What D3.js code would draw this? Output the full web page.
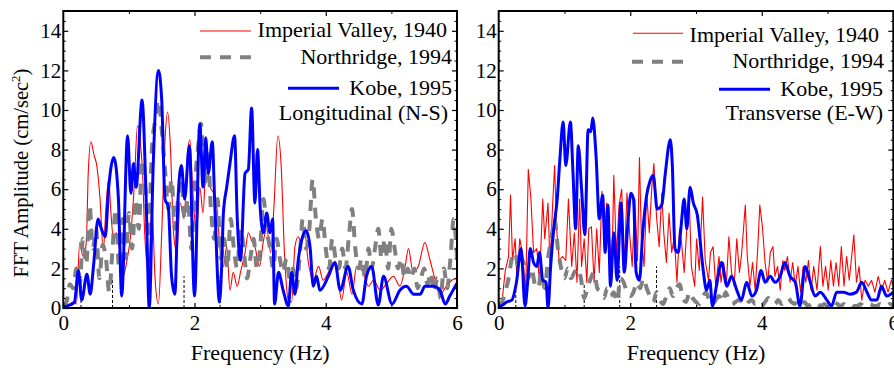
<!DOCTYPE html>
<html>
<head>
<meta charset="utf-8">
<script src="https://cdn.jsdelivr.net/npm/d3@7"></script>
<style>
  body { margin: 0; background: #fff; }
  svg { display: block; }
</style>
</head>
<body>
<script>
// ---------- data: [frequency Hz, amplitude cm/sec^2]
// Longitudinal (N-S)
var ivNS = [[0,0.1],[0.1,0.2],[0.15,0.3],[0.2,0.2],[0.25,3.3],[0.3,2.6],[0.35,3.3],[0.38,6.8],[0.42,8.4],[0.47,7.7],[0.51,7.2],[0.56,5.5],[0.61,2.9],[0.65,5.1],[0.69,6.5],[0.73,4.6],[0.76,3.6],[0.81,3.8],[0.86,2.9],[0.91,1.6],[0.97,2.4],[1.03,3.8],[1.08,6.1],[1.13,9.2],[1.17,8.5],[1.21,6.7],[1.24,3.8],[1.30,1.8],[1.35,5.1],[1.40,1.4],[1.45,0.2],[1.50,3.8],[1.55,8.5],[1.59,9.9],[1.63,8.3],[1.68,3.8],[1.73,2.8],[1.78,5.3],[1.84,4.5],[1.89,7.7],[1.93,8.5],[1.97,6.1],[2.03,3.8],[2.08,6.1],[2.13,4.8],[2.18,7.5],[2.24,6.1],[2.29,5.8],[2.34,5.1],[2.39,2.9],[2.44,2.1],[2.49,3.1],[2.54,0.9],[2.59,1.8],[2.65,1.1],[2.70,1.8],[2.77,2.8],[2.82,3.8],[2.87,3.4],[2.92,3.1],[2.99,2.1],[3.05,3.4],[3.10,4.0],[3.16,2.8],[3.21,5.1],[3.27,8.7],[3.32,7.2],[3.37,2.8],[3.43,0.4],[3.48,0.3],[3.53,3.1],[3.58,3.6],[3.63,3.3],[3.68,3.8],[3.73,2.4],[3.81,1.4],[3.89,2.1],[3.96,1.4],[4.04,1.8],[4.12,2.3],[4.19,1.4],[4.24,0.4],[4.32,1.8],[4.40,0.7],[4.47,2.1],[4.57,1.8],[4.65,1.1],[4.73,1.4],[4.83,0.9],[4.93,1.25],[5.03,1.6],[5.13,1.1],[5.21,2.1],[5.26,3.0],[5.33,1.8],[5.41,2.1],[5.51,3.3],[5.59,2.4],[5.67,1.4],[5.74,0.7],[5.84,1.1],[5.92,1.4],[6.0,1.5]];

var nrNS = [[0,0.1],[0.05,0.3],[0.1,1.2],[0.15,1.0],[0.2,2.0],[0.25,1.2],[0.3,3.5],[0.35,2.2],[0.4,5.2],[0.45,3.0],[0.5,4.0],[0.55,1.5],[0.6,3.2],[0.65,2.5],[0.7,0.8],[0.75,3.0],[0.8,5.0],[0.85,2.0],[0.9,4.5],[0.95,2.5],[1.0,4.8],[1.05,3.0],[1.1,5.5],[1.15,4.0],[1.2,7.5],[1.25,6.0],[1.3,3.5],[1.35,8.0],[1.4,9.5],[1.45,10.5],[1.5,9.0],[1.55,7.0],[1.6,5.0],[1.65,6.5],[1.7,4.0],[1.75,5.5],[1.8,6.5],[1.85,4.5],[1.9,5.5],[1.95,3.0],[2.0,6.0],[2.05,8.0],[2.1,9.3],[2.15,6.0],[2.2,8.0],[2.25,5.0],[2.3,3.5],[2.35,5.5],[2.4,2.5],[2.45,3.5],[2.5,2.0],[2.55,4.5],[2.6,3.0],[2.65,2.0],[2.7,4.0],[2.75,3.0],[2.8,1.5],[2.85,2.5],[2.9,3.5],[2.95,2.0],[3.0,3.0],[3.05,5.5],[3.1,4.0],[3.15,3.0],[3.2,2.0],[3.25,3.5],[3.3,2.5],[3.35,1.8],[3.4,2.5],[3.45,1.5],[3.5,2.0],[3.55,1.0],[3.6,2.5],[3.65,4.5],[3.7,3.0],[3.75,4.0],[3.8,6.5],[3.85,4.5],[3.9,3.5],[3.95,4.5],[4.0,3.0],[4.05,2.0],[4.1,3.5],[4.15,2.5],[4.2,2.0],[4.25,3.0],[4.3,2.0],[4.35,3.5],[4.4,5.0],[4.45,3.0],[4.5,2.0],[4.55,2.5],[4.6,1.5],[4.65,3.0],[4.7,2.0],[4.75,3.0],[4.8,4.0],[4.85,2.5],[4.9,3.5],[4.95,2.0],[5.0,4.0],[5.05,3.0],[5.1,2.0],[5.15,2.5],[5.2,1.5],[5.25,2.0],[5.3,1.5],[5.35,2.0],[5.4,1.0],[5.45,1.5],[5.5,2.0],[5.55,1.2],[5.6,1.8],[5.65,0.8],[5.7,1.5],[5.75,0.5],[5.8,2.0],[5.85,1.0],[5.9,2.5],[5.95,4.5],[6.0,2.5]];

var kobeNS = [[0,0.05],[0.1,0.15],[0.17,0.3],[0.23,1.9],[0.28,0.4],[0.36,1.7],[0.41,0.7],[0.46,2.1],[0.53,4.5],[0.58,4.0],[0.64,3.6],[0.69,6.0],[0.77,7.6],[0.84,5.5],[0.89,0.6],[0.98,8.7],[1.03,5.8],[1.07,7.3],[1.11,6.1],[1.20,10.5],[1.26,5.8],[1.31,0],[1.37,7.2],[1.45,12.0],[1.50,10.5],[1.55,5.5],[1.60,5.1],[1.65,1.6],[1.70,0.7],[1.75,5.6],[1.80,7.2],[1.85,5.5],[1.92,8.2],[2.00,0.6],[2.08,9.3],[2.13,6.1],[2.17,8.6],[2.21,6.8],[2.27,8.4],[2.31,5.1],[2.38,0.3],[2.41,1.8],[2.44,4.8],[2.49,6.1],[2.54,7.3],[2.61,8.7],[2.65,4.6],[2.70,2.4],[2.77,6.8],[2.82,7.0],[2.87,10.1],[2.92,5.3],[2.96,8.0],[3.00,5.1],[3.05,3.8],[3.10,4.8],[3.15,3.8],[3.19,4.5],[3.22,0.2],[3.28,1.8],[3.35,0.9],[3.43,0.1],[3.48,1.8],[3.53,0.7],[3.58,2.4],[3.63,3.4],[3.70,3.9],[3.76,3.1],[3.81,1.1],[3.86,1.6],[3.91,0.9],[4.04,1.6],[4.14,2.3],[4.22,0.9],[4.34,2.1],[4.42,0.9],[4.55,0.2],[4.62,1.6],[4.70,2.1],[4.80,0.15],[4.88,1.6],[5.01,0.2],[5.13,0.9],[5.23,1.1],[5.34,0.7],[5.44,0.7],[5.51,1.1],[5.64,1.1],[5.74,0.9],[5.82,0.2],[5.89,0.6],[6.0,1.25]];

// Transverse (E-W)
var ivEW = [[0,0.2],[0.05,0.3],[0.10,1.9],[0.15,2.6],[0.18,5.7],[0.21,2.4],[0.25,3.5],[0.28,1.3],[0.32,3.5],[0.36,2.8],[0.41,0.8],[0.45,7.0],[0.49,5.5],[0.53,2.8],[0.58,3.0],[0.62,1.3],[0.67,5.5],[0.70,3.5],[0.75,5.3],[0.78,2.1],[0.82,5.2],[0.85,7.2],[0.88,4.0],[0.92,2.4],[0.97,2.6],[1.02,2.4],[1.06,5.5],[1.11,2.1],[1.15,3.8],[1.19,1.3],[1.23,5.5],[1.26,2.1],[1.30,3.5],[1.34,1.3],[1.37,4.0],[1.41,4.1],[1.45,1.3],[1.49,4.0],[1.53,1.8],[1.57,5.9],[1.61,2.8],[1.64,5.3],[1.68,3.8],[1.72,1.8],[1.75,6.7],[1.79,2.6],[1.83,5.2],[1.87,6.0],[1.91,2.1],[1.95,5.8],[1.99,3.8],[2.03,2.1],[2.07,5.5],[2.11,2.4],[2.14,7.6],[2.17,3.5],[2.21,2.1],[2.25,5.8],[2.29,3.8],[2.33,6.2],[2.36,7.3],[2.40,4.6],[2.44,3.1],[2.48,5.8],[2.51,3.8],[2.55,2.3],[2.59,4.8],[2.63,2.8],[2.67,3.6],[2.71,1.3],[2.75,4.0],[2.78,3.3],[2.82,1.8],[2.86,4.0],[2.90,5.2],[2.93,2.1],[2.98,1.1],[3.01,3.5],[3.05,1.9],[3.10,5.6],[3.14,2.4],[3.19,1.4],[3.22,2.8],[3.26,3.1],[3.30,1.1],[3.35,2.6],[3.38,1.3],[3.42,2.3],[3.46,1.1],[3.50,3.6],[3.54,1.8],[3.58,1.1],[3.62,3.5],[3.66,1.8],[3.69,2.6],[3.75,5.2],[3.78,2.6],[3.82,1.1],[3.86,2.3],[3.90,0.9],[3.94,3.1],[3.97,5.2],[4.01,4.1],[4.05,2.3],[4.09,1.3],[4.13,2.8],[4.17,3.1],[4.20,1.6],[4.24,2.1],[4.28,0.9],[4.32,2.4],[4.35,1.9],[4.39,2.6],[4.43,1.3],[4.47,2.3],[4.51,1.1],[4.55,2.1],[4.59,0.8],[4.63,2.1],[4.67,1.3],[4.71,2.4],[4.75,0.9],[4.79,2.1],[4.84,0.9],[4.89,3.1],[4.93,1.1],[4.97,2.1],[5.01,0.9],[5.05,2.4],[5.09,1.1],[5.13,2.3],[5.17,1.1],[5.21,3.1],[5.25,1.1],[5.29,2.6],[5.33,1.4],[5.40,3.7],[5.44,1.3],[5.48,2.1],[5.52,0.4],[5.57,1.4],[5.62,1.1],[5.67,1.4],[5.72,0.8],[5.77,1.6],[5.82,0.9],[5.87,1.4],[5.92,0.8],[5.97,1.4],[6.0,1.1]];

var nrEW = [[0,0.1],[0.05,0.3],[0.1,0.8],[0.15,1.5],[0.2,2.5],[0.25,2.8],[0.3,2.0],[0.35,2.5],[0.4,2.0],[0.45,1.5],[0.5,2.0],[0.55,1.2],[0.6,1.0],[0.65,1.8],[0.7,1.0],[0.75,2.5],[0.8,3.5],[0.85,4.5],[0.9,3.0],[0.95,2.0],[1.0,1.5],[1.05,2.0],[1.1,1.5],[1.15,1.8],[1.2,2.0],[1.25,1.5],[1.3,0.5],[1.35,1.0],[1.4,1.5],[1.45,1.8],[1.5,1.0],[1.55,0.8],[1.6,0.5],[1.65,1.0],[1.7,0.6],[1.75,0.8],[1.8,0.3],[1.85,1.5],[1.9,1.3],[1.95,0.8],[2.0,0.6],[2.05,0.8],[2.1,1.3],[2.15,1.0],[2.2,1.5],[2.25,1.0],[2.3,0.6],[2.35,0.3],[2.4,0.8],[2.45,0.4],[2.5,0.2],[2.55,0.6],[2.6,1.0],[2.65,0.6],[2.7,1.0],[2.75,1.2],[2.8,0.5],[2.85,0.3],[2.9,0.8],[2.95,0.5],[3.0,0.3],[3.05,0.2],[3.1,0.5],[3.15,0.8],[3.2,0.4],[3.25,0.2],[3.3,0.4],[3.35,0.6],[3.4,0.3],[3.45,0.8],[3.5,0.4],[3.55,0.2],[3.6,0.3],[3.65,0.4],[3.7,0.3],[3.75,0.1],[3.8,0.3],[3.85,0.4],[3.9,0.2],[3.95,0.3],[4.0,0.1],[4.05,0.3],[4.1,0.5],[4.15,0.3],[4.2,0.2],[4.25,0.4],[4.3,0.2],[4.35,0.3],[4.4,0.5],[4.45,0.3],[4.5,0.2],[4.55,0.4],[4.6,0.2],[4.65,0.3],[4.7,0.1],[4.75,0.2],[4.8,0.3],[4.85,0.2],[4.9,0.1],[4.95,0.2],[5.0,0.1],[5.05,0.2],[5.1,0.3],[5.15,0.2],[5.2,0.1],[5.25,0.2],[5.3,0.1],[5.35,0.2],[5.4,0.1],[5.45,0.1],[5.5,0.2],[5.55,0.1],[5.6,0.1],[5.65,0.2],[5.7,0.1],[5.75,0.1],[5.8,0.2],[5.85,0.1],[5.9,0.1],[5.95,0.2],[6.0,0.1]];

var kobeEW = [[0,0.05],[0.06,0.15],[0.12,0.3],[0.2,0.4],[0.27,1.3],[0.34,3.0],[0.40,0.1],[0.44,1.3],[0.48,3.0],[0.53,2.3],[0.58,2.1],[0.62,2.8],[0.67,1.4],[0.72,1.3],[0.75,0],[0.79,2.1],[0.84,4.1],[0.89,5.5],[0.93,7.5],[0.98,9.4],[1.02,7.2],[1.09,9.4],[1.13,6.8],[1.17,4.0],[1.21,8.2],[1.26,6.0],[1.31,3.7],[1.36,9.0],[1.40,8.9],[1.43,9.6],[1.48,7.7],[1.53,4.5],[1.58,5.7],[1.62,2.8],[1.66,5.2],[1.70,1.1],[1.75,3.8],[1.80,1.4],[1.86,5.3],[1.91,1.8],[1.96,4.1],[2.01,5.8],[2.05,5.5],[2.09,1.8],[2.14,1.4],[2.19,3.8],[2.25,5.7],[2.30,6.4],[2.35,6.7],[2.41,5.0],[2.48,5.2],[2.53,6.7],[2.61,8.5],[2.64,7.2],[2.68,3.0],[2.73,2.8],[2.77,4.0],[2.82,5.5],[2.86,4.0],[2.91,6.1],[2.96,5.3],[3.02,4.7],[3.06,3.5],[3.11,1.9],[3.16,0.9],[3.21,1.4],[3.25,0.1],[3.31,1.1],[3.39,2.3],[3.47,1.1],[3.54,1.6],[3.62,0.9],[3.69,0.4],[3.77,1.3],[3.85,0.6],[3.92,0.9],[3.99,1.9],[4.05,1.3],[4.13,1.6],[4.20,1.3],[4.28,1.6],[4.35,2.3],[4.43,1.6],[4.51,1.3],[4.58,0.1],[4.66,2.1],[4.73,1.4],[4.81,0.6],[4.89,0.8],[4.99,0.4],[5.06,0.1],[5.14,0.8],[5.24,0.8],[5.34,0.7],[5.44,0.8],[5.52,1.3],[5.60,0.8],[5.67,0.4],[5.75,0.4],[5.82,1.1],[5.90,0.6],[6.0,0.8]];

// short dashed drop lines at the foot of each panel: [frequency, height]
var dropsNS = [[0.27,1.6],[0.75,1.5],[1.84,1.6],[2.39,1.6]];
var dropsEW = [[0.26,0.9],[1.30,1.2],[1.84,2.1],[2.40,2.1]];

var seriesNames = ["Imperial Valley, 1940", "Northridge, 1994", "Kobe, 1995"];
var xTicks = [0, 2, 4, 6];
var yTicks = [0, 2, 4, 6, 8, 10, 12, 14];

// ---------- layout
var W = 894, H = 368;
var plotTop = 11, plotBottom = 308;
var font = "'Liberation Serif', 'Times New Roman', Times, serif";

var styles = [
  {color: "#ff0000", width: 1.1, dash: null},
  {color: "#808080", width: 4, dash: "11,9"},
  {color: "#0000ff", width: 3, dash: null}
];

var panels = [
  {x0: 63.3, x1: 457, data: [ivNS, nrNS, kobeNS], drops: dropsNS, title: "Longitudinal (N-S)",
   curves: [d3.curveMonotoneX, d3.curveMonotoneX, d3.curveMonotoneX],
   legLines: [[200, 251, 31], [200, 252, 57.3], [288, 339, 88.3]],
   legText: [[447, 37.3], [452, 64.3], [452, 95], [448, 120]]},
  {x0: 498.7, x1: 893.3, data: [ivEW, nrEW, kobeEW], drops: dropsEW, title: "Transverse (E-W)",
   curves: [d3.curveLinear, d3.curveMonotoneX, d3.curveMonotoneX],
   legLines: [[633, 683, 33.3], [632, 683, 61.7], [719, 770, 89.3]],
   legText: [[879, 41.7], [884, 68.3], [883, 96], [883, 119.5]]}
];

var svg = d3.select("body").append("svg")
  .attr("width", W).attr("height", H)
  .style("font-family", font);

panels.forEach(function(p, pi) {
  var x = d3.scaleLinear().domain([0, 6]).range([p.x0, p.x1]);
  var y = d3.scaleLinear().domain([0, 15]).range([plotBottom, plotTop]);
  var g = svg.append("g");

  var clipId = "clip" + pi;
  g.append("clipPath").attr("id", clipId)
    .append("rect").attr("x", p.x0).attr("y", plotTop)
    .attr("width", p.x1 - p.x0).attr("height", plotBottom - plotTop);

  // dashed drop lines
  g.selectAll(".drop").data(p.drops).enter().append("line")
    .attr("x1", d => x(d[0])).attr("x2", d => x(d[0]))
    .attr("y1", y(0)).attr("y2", d => y(d[1]))
    .attr("stroke", "#000").attr("stroke-width", 1).attr("stroke-dasharray", "3,2");

  // series lines
  p.data.forEach(function(s, i) {
    var st = styles[i];
    var line = d3.line().x(d => x(d[0])).y(d => y(d[1])).curve(p.curves[i]);
    g.append("path").datum(s)
      .attr("clip-path", "url(#" + clipId + ")")
      .attr("d", line)
      .attr("fill", "none")
      .attr("stroke", st.color)
      .attr("stroke-width", st.width)
      .attr("stroke-dasharray", st.dash)
      .attr("stroke-linejoin", "round");
  });

  // minor ticks (inward, all four sides)
  var yMinor = d3.range(0, 15.01, 0.5).filter(v => v % 2 !== 0);
  var xMinor = [1, 3, 5];
  var axes = [
    d3.axisLeft(y).tickValues(yMinor).tickSizeInner(-2.5).tickSizeOuter(0).tickFormat(""),
    d3.axisRight(y).tickValues(yMinor).tickSizeInner(-2.5).tickSizeOuter(0).tickFormat(""),
    d3.axisBottom(x).tickValues(xMinor).tickSizeInner(-3).tickSizeOuter(0).tickFormat(""),
    d3.axisTop(x).tickValues(xMinor).tickSizeInner(-3).tickSizeOuter(0).tickFormat("")
  ];
  var pos = ["translate(" + p.x0 + ",0)", "translate(" + p.x1 + ",0)",
             "translate(0," + plotBottom + ")", "translate(0," + plotTop + ")"];
  axes.forEach(function(a, k) {
    var ag = g.append("g").attr("transform", pos[k]).call(a);
    ag.select(".domain").remove();
    ag.selectAll("line").attr("stroke-width", 1);
  });

  // major ticks with labels
  var fmt = d3.format("d");
  var yAx = g.append("g").attr("transform", "translate(" + p.x0 + ",0)")
    .call(d3.axisLeft(y).tickValues(yTicks).tickFormat(fmt).tickSizeInner(-5).tickSizeOuter(0).tickPadding(2));
  var yAxR = g.append("g").attr("transform", "translate(" + p.x1 + ",0)")
    .call(d3.axisRight(y).tickValues(yTicks).tickSizeInner(-5).tickSizeOuter(0).tickFormat(""));
  var xAx = g.append("g").attr("transform", "translate(0," + plotBottom + ")")
    .call(d3.axisBottom(x).tickValues(xTicks).tickFormat(fmt).tickSizeInner(-5).tickSizeOuter(0).tickPadding(7));
  var xAxT = g.append("g").attr("transform", "translate(0," + plotTop + ")")
    .call(d3.axisTop(x).tickValues(xTicks.slice(1, 3)).tickSizeInner(-5).tickSizeOuter(0).tickFormat(""));
  [yAx, yAxR, xAx, xAxT].forEach(function(a) {
    a.select(".domain").remove();
    a.selectAll("line").attr("stroke-width", 1.2);
    a.selectAll("text").style("font-family", font).style("font-size", "21px").attr("fill", "#000");
  });

  // frame
  g.append("rect")
    .attr("x", p.x0).attr("y", plotTop)
    .attr("width", p.x1 - p.x0).attr("height", plotBottom - plotTop)
    .attr("fill", "none").attr("stroke", "#000").attr("stroke-width", 2);

  // x axis title
  g.append("text")
    .attr("x", (p.x0 + p.x1) / 2).attr("y", 360)
    .attr("text-anchor", "middle")
    .style("font-size", "22px")
    .text("Frequency (Hz)");

  // legend
  p.legLines.forEach(function(l, i) {
    var st = styles[i];
    g.append("line")
      .attr("x1", l[0]).attr("x2", l[1]).attr("y1", l[2]).attr("y2", l[2])
      .attr("stroke", st.color).attr("stroke-width", st.width)
      .attr("stroke-dasharray", st.dash);
  });
  var labels = seriesNames.concat([p.title]);
  p.legText.forEach(function(t, i) {
    g.append("text")
      .attr("x", t[0]).attr("y", t[1])
      .attr("text-anchor", "end")
      .style("font-size", "22px")
      .text(labels[i]);
  });
});

// y axis title (left panel only)
var yLab = svg.append("text")
  .attr("transform", "translate(28,173) rotate(-90)")
  .attr("text-anchor", "middle")
  .style("font-size", "20.5px");
yLab.append("tspan").text("FFT Amplitude (cm/sec");
yLab.append("tspan").attr("dy", -8).style("font-size", "13px").text("2");
yLab.append("tspan").attr("dy", 8).text(")");
</script>
</body>
</html>
